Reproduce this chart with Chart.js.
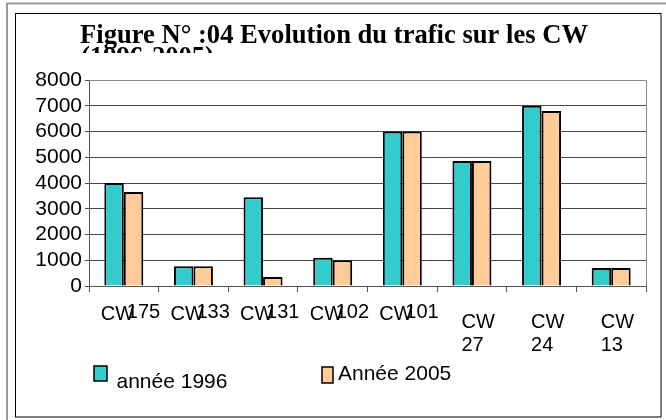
<!DOCTYPE html>
<html><head><meta charset="utf-8">
<script src="https://cdn.jsdelivr.net/npm/chart.js@4/dist/chart.umd.min.js"></script>
<style>html,body{margin:0;padding:0;background:#fff;}#wrap{width:666px;height:420px;position:relative;}</style>
</head><body><div id="wrap"><canvas id="c" width="666" height="420"></canvas></div>
<script>
const categories = ['CW 175','CW 133','CW 131','CW 102','CW 101','CW 27','CW 24','CW 13'];
const values1996 = [4000, 770, 3450, 1100, 6000, 4850, 7000, 700];
const values2005 = [3650, 770, 350, 1000, 6000, 4850, 6800, 700];
const seriesNames = ['année 1996', 'Année 2005'];
const yMin = 0, yMax = 8000, yStep = 1000;
const titleLines = ['Figure N° :04 Evolution du trafic sur les CW', '(1996-2005)'];

const SANS = "'Liberation Sans', Arial, sans-serif";
const SERIF = "'Liberation Serif', 'Times New Roman', serif";

const framePlugin = {
  id: 'frame',
  beforeDraw(chart) {
    const c = chart.ctx;
    c.save();
    c.fillStyle = '#fff';
    c.fillRect(0, 0, chart.width, chart.height);
    c.strokeStyle = '#999';
    c.lineWidth = 2;
    c.strokeRect(7, 3.5, 720, 520);
    c.strokeStyle = '#000';
    c.lineWidth = 1;
    c.strokeRect(15.5, 13.5, 645.5, 403.5);
    c.fillStyle = '#000';
    c.textAlign = 'left';
    c.textBaseline = 'alphabetic';
    c.font = 'bold 26.6px ' + SERIF;
    c.fillText(titleLines[0], 80, 42.5);
    c.beginPath();
    c.rect(0, 0, chart.width, 53);
    c.clip();
    c.fillText(titleLines[1], 81, 65);
    c.restore();
  },
  afterDraw(chart) {
    const c = chart.ctx;
    const a = chart.chartArea;
    c.save();
    c.strokeStyle = '#888';
    c.lineWidth = 1;
    c.beginPath();
    c.moveTo(a.left, a.top + 0.5);
    c.lineTo(Math.round(a.right) + 0.5, a.top + 0.5);
    c.lineTo(Math.round(a.right) + 0.5, a.bottom);
    c.stroke();
    const xs = chart.scales.x;
    c.fillStyle = '#000';
    c.textAlign = 'left';
    c.textBaseline = 'alphabetic';
    c.font = '20px ' + SANS;
    chart.data.labels.forEach((lab, i) => {
      const cx = xs.getPixelForValue(i);
      const parts = lab.split(' ');
      if (i < 5) {
        c.fillText(parts[0], cx - 23, 319.5);
        c.fillText(parts[1], cx + 3, 317.5);
      } else {
        c.fillText(parts[0], cx - 10.5, 327.5);
        c.fillText(parts[1], cx - 10.5, 351);
      }
    });
    const ds = chart.data.datasets;
    const boxes = [
      {x: 94, y: 366, w: 13, h: 15, tx: 116.5, ty: 387.5},
      {x: 322, y: 367, w: 11, h: 16, tx: 338, ty: 379.5}
    ];
    c.font = '21px ' + SANS;
    ds.forEach((d, i) => {
      const b = boxes[i];
      c.fillStyle = d.backgroundColor;
      c.fillRect(b.x, b.y, b.w, b.h);
      c.strokeStyle = '#000';
      c.lineWidth = 1.5;
      c.strokeRect(b.x, b.y, b.w, b.h);
      c.fillStyle = '#000';
      c.fillText(d.label, b.tx, b.ty);
    });
    c.restore();
  }
};

new Chart(document.getElementById('c').getContext('2d'), {
  type: 'bar',
  data: {
    labels: categories,
    datasets: [
      {label: seriesNames[0], data: values1996, backgroundColor: '#33CCCC', borderColor: '#000', borderWidth: 2},
      {label: seriesNames[1], data: values2005, backgroundColor: '#FFCC99', borderColor: '#000', borderWidth: 2}
    ]
  },
  options: {
    responsive: false,
    animation: false,
    devicePixelRatio: 1,
    layout: {padding: {left: 0, top: 80, right: 20, bottom: 0}},
    plugins: {legend: {display: false}, title: {display: false}, tooltip: {enabled: false}},
    datasets: {bar: {categoryPercentage: 0.56, barPercentage: 1}},
    scales: {
      x: {
        grid: {drawOnChartArea: false, drawTicks: true, tickLength: 6, color: '#555'},
        border: {color: '#555'},
        ticks: {display: false},
        afterFit(s) { s.height = 134; }
      },
      y: {
        min: yMin, max: yMax,
        ticks: {stepSize: yStep, autoSkip: false, font: {family: SANS, size: 21}, color: '#000', padding: 3,
                callback: (v) => String(v)},
        grid: {color: '#4a4a4a', tickLength: 4},
        border: {color: '#555'},
        afterFit(s) { s.width = 89; }
      }
    }
  },
  plugins: [framePlugin]
});
</script>
</body></html>
